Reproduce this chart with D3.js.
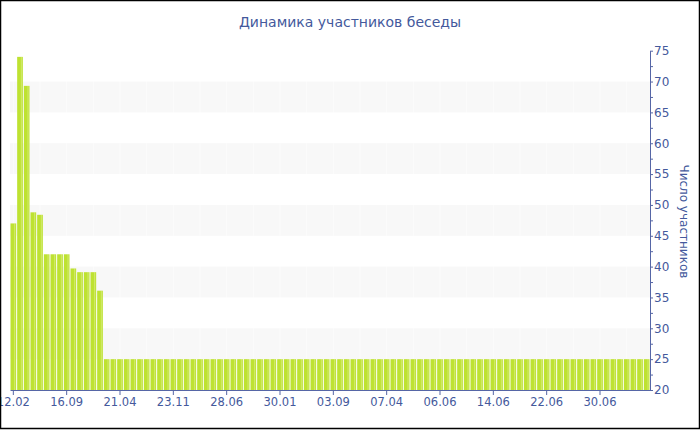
<!DOCTYPE html>
<html>
<head>
<meta charset="utf-8">
<script src="https://cdn.jsdelivr.net/npm/d3@7/dist/d3.min.js"></script>
<style>
  html, body { margin: 0; padding: 0; background: #fff; }
  svg { display: block; }
  text { font-family: "DejaVu Sans", Verdana, sans-serif; }
</style>
</head>
<body>
<svg id="chart" width="700" height="430"></svg>
<script>
// ---- data ----
const title = "Динамика участников беседы";
const yAxisTitle = "Число участников";
const xTickLabels = ["12.02", "16.09", "21.04", "23.11", "28.06", "30.01",
                     "03.09", "07.04", "06.06", "14.06", "22.06", "30.06"];
const values = [
  47, 74, 69.3, 48.8, 48.4, 42, 42, 42, 42, 39.7,
  39.1, 39.1, 39.1, 36.1, 25, 25, 25, 25, 25, 25,
  25, 25, 25, 25, 25, 25, 25, 25, 25, 25,
  25, 25, 25, 25, 25, 25, 25, 25, 25, 25,
  25, 25, 25, 25, 25, 25, 25, 25, 25, 25,
  25, 25, 25, 25, 25, 25, 25, 25, 25, 25,
  25, 25, 25, 25, 25, 25, 25, 25, 25, 25,
  25, 25, 25, 25, 25, 25, 25, 25, 25, 25,
  25, 25, 25, 25, 25, 25, 25, 25, 25, 25,
  25, 25, 25, 25, 25, 25
];
const categories = values.map((v, i) => i);
const yMajorTicks = [20, 25, 30, 35, 40, 45, 50, 55, 60, 65, 70, 75];

// ---- layout ----
const W = 700, H = 430;
const plot = { left: 10, right: 650, top: 50.7, bottom: 390 };
const axisColor = "#5666a6";
const textColor = "#44599c";
const barColor = "#bee231";

const svg = d3.select("#chart");

const x = d3.scaleBand()
  .domain(categories)
  .range([plot.left, plot.right])
  .paddingInner(0.15)
  .paddingOuter(0.075);

const y = d3.scaleLinear()
  .domain([20, 75])
  .range([plot.bottom, plot.top]);

// alternate bands
const bands = [];
for (let i = 0; i < yMajorTicks.length - 1; i++) {
  if (i % 2 === 1) bands.push([yMajorTicks[i], yMajorTicks[i + 1]]);
}
svg.append("g").selectAll("rect").data(bands).join("rect")
  .attr("x", plot.left)
  .attr("width", plot.right - plot.left)
  .attr("y", d => y(d[1]))
  .attr("height", d => y(d[0]) - y(d[1]))
  .attr("fill", "#f8f8f8");

// faint vertical grid lines
const vGrid = categories.filter(i => i % 4 === 0);
svg.append("g").selectAll("line").data(vGrid).join("line")
  .attr("x1", d => x(d) + x.bandwidth() / 2)
  .attr("x2", d => x(d) + x.bandwidth() / 2)
  .attr("y1", plot.top)
  .attr("y2", plot.bottom)
  .attr("stroke", "#ffffff")
  .attr("stroke-opacity", 0.5)
  .attr("stroke-width", 1);

// bars
const bars = svg.append("g");
bars.selectAll("rect.bar").data(values).join("rect")
  .attr("class", "bar")
  .attr("x", (d, i) => x(i))
  .attr("width", x.bandwidth())
  .attr("y", d => y(d))
  .attr("height", d => y(20) - y(d))
  .attr("fill", barColor);
bars.selectAll("rect.hl").data(values).join("rect")
  .attr("class", "hl")
  .attr("x", (d, i) => x(i) + x.bandwidth() - 2)
  .attr("width", 1)
  .attr("y", d => y(d))
  .attr("height", d => y(20) - y(d))
  .attr("fill", "#ffffff")
  .attr("opacity", 0.3);

// x axis
const xAxis = d3.axisBottom(x)
  .tickValues(categories.filter(i => i % 8 === 0))
  .tickFormat(i => xTickLabels[i / 8])
  .tickSizeInner(5)
  .tickSizeOuter(0)
  .tickPadding(3);
const gx = svg.append("g")
  .attr("transform", `translate(0,${plot.bottom})`)
  .call(xAxis);
gx.select(".domain").attr("stroke", axisColor);
gx.selectAll(".tick line").attr("stroke", axisColor);
gx.selectAll(".tick text")
  .attr("fill", textColor)
  .style("font-size", "11.5px")
  .style("font-family", "'DejaVu Sans', Verdana, sans-serif");

// y axis (right)
const yAxis = d3.axisRight(y)
  .tickValues(yMajorTicks)
  .tickFormat(d3.format("d"))
  .tickSizeInner(3)
  .tickSizeOuter(0)
  .tickPadding(1);
const gy = svg.append("g")
  .attr("transform", `translate(${plot.right},0)`)
  .call(yAxis);
gy.select(".domain").attr("stroke", axisColor);
gy.selectAll(".tick line").attr("stroke", axisColor);
gy.selectAll(".tick text")
  .attr("fill", textColor)
  .style("font-size", "12px")
  .style("font-family", "'DejaVu Sans', Verdana, sans-serif");

// minor ticks
const minor = yMajorTicks.slice(0, -1).map(v => v + 2.5);
const yMinor = d3.axisRight(y).tickValues(minor).tickFormat("").tickSizeInner(3).tickSizeOuter(0);
const gym = svg.append("g")
  .attr("transform", `translate(${plot.right},0)`)
  .call(yMinor);
gym.select(".domain").remove();
gym.selectAll(".tick line").attr("stroke", axisColor);

// axis title
svg.append("text")
  .attr("transform", `translate(680,${(plot.top + plot.bottom) / 2 + 1}) rotate(90)`)
  .attr("text-anchor", "middle")
  .attr("fill", textColor)
  .style("font-size", "12px")
  .text(yAxisTitle);

// chart title
svg.append("text")
  .attr("x", 350)
  .attr("y", 27)
  .attr("text-anchor", "middle")
  .attr("fill", textColor)
  .style("font-size", "14px")
  .text(title);

// outer border
svg.append("rect")
  .attr("x", 0.5).attr("y", 0.5)
  .attr("width", W - 1).attr("height", H - 2)
  .attr("fill", "none")
  .attr("stroke", "#000")
  .attr("stroke-width", 1.5);
</script>
</body>
</html>
